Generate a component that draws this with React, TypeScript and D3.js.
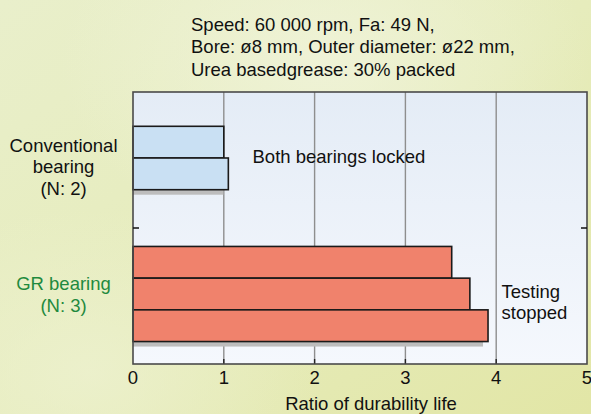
import React from "react";
import * as d3 from "d3";

const titleLines = [
  "Speed: 60 000 rpm, Fa: 49 N,",
  "Bore: ø8 mm, Outer diameter: ø22 mm,",
  "Urea basedgrease: 30% packed",
];
const categories = ["Conventional", "GR"];
const conventionalValues = [1.0, 1.05];
const grValues = [3.51, 3.71, 3.91];
const xTicks = [0, 1, 2, 3, 4, 5];
const conventionalLabel = ["Conventional", "bearing", "(N: 2)"];
const grLabel = ["GR bearing", "(N: 3)"];
const xAxisTitle = "Ratio of durability life";
const noteLocked = "Both bearings locked";
const noteStopped = ["Testing", "stopped"];

const W = 591;
const H = 414;
const margin = { left: 133, right: 4, top: 92, bottom: 50 };
const FONT = "'Liberation Sans', Arial, Helvetica, sans-serif";
const FS = 18.5;

export default function App() {
  const x = d3.scaleLinear().domain([0, 5]).range([margin.left, W - margin.right]);
  const y0 = d3
    .scaleBand<string>()
    .domain(categories)
    .range([margin.top, H - margin.bottom])
    .padding(0);
  const barH = 31.7;
  const groups = [
    { cat: "Conventional", values: conventionalValues, fill: "#c9e0f3" },
    { cat: "GR", values: grValues, fill: "#f0826c" },
  ];
  const plotTop = margin.top;
  const plotBottom = H - margin.bottom;
  const plotLeft = x(0);
  const plotRight = x(5);

  return (
    <svg
      width={W}
      height={H}
      style={{ position: "absolute", left: 0, top: 0, display: "block" }}
      fontFamily={FONT}
    >
      <defs>
        <linearGradient id="bg" x1="0" y1="0" x2="1" y2="1">
          <stop offset="0" stopColor="#e9efcb" />
          <stop offset="0.5" stopColor="#e6ecbc" />
          <stop offset="1" stopColor="#e2e6a6" />
        </linearGradient>
        <radialGradient id="blob1" cx="0.55" cy="0.15" r="0.45">
          <stop offset="0" stopColor="#f1f4dc" stopOpacity="0.8" />
          <stop offset="1" stopColor="#f1f4dc" stopOpacity="0" />
        </radialGradient>
        <radialGradient id="blob2" cx="0.15" cy="0.9" r="0.4">
          <stop offset="0" stopColor="#eef2d2" stopOpacity="0.7" />
          <stop offset="1" stopColor="#eef2d2" stopOpacity="0" />
        </radialGradient>
        <linearGradient id="plotbg" x1="0" y1="0" x2="0" y2="1">
          <stop offset="0" stopColor="#e4ecf6" />
          <stop offset="1" stopColor="#f5f8fd" />
        </linearGradient>
      </defs>
      <rect x={0} y={0} width={W} height={H} fill="url(#bg)" />
      <rect x={0} y={0} width={W} height={H} fill="url(#blob1)" />
      <rect x={0} y={0} width={W} height={H} fill="url(#blob2)" />

      {titleLines.map((t, i) => (
        <text key={i} x={191} y={30.5 + i * 22.6} fontSize={FS} fill="#111">
          {t}
        </text>
      ))}

      <rect
        x={plotLeft}
        y={plotTop}
        width={plotRight - plotLeft}
        height={plotBottom - plotTop}
        fill="url(#plotbg)"
      />

      {xTicks.slice(1, -1).map((t) => (
        <g key={t}>
          <line x1={x(t)} x2={x(t)} y1={plotTop} y2={plotBottom} stroke="#8e8e8e" strokeWidth={1.4} />
          <line x1={x(t)} x2={x(t)} y1={plotBottom - 5} y2={plotBottom} stroke="#222" strokeWidth={1.4} />
        </g>
      ))}

      {groups.map((g) => {
        const n = g.values.length;
        const top = (y0(g.cat) as number) + (y0.bandwidth() - n * barH) / 2 - 2;
        const maxV = d3.max(g.values) as number;
        return (
          <g key={g.cat}>
            <rect
              x={plotLeft}
              y={top + n * barH}
              width={x(maxV) - plotLeft - 5}
              height={5}
              fill="#bdbdbd"
            />
            {g.values.map((v, i) => (
              <rect
                key={i}
                x={plotLeft}
                y={top + i * barH}
                width={x(v) - plotLeft}
                height={barH}
                fill={g.fill}
                stroke="#1a1a1a"
                strokeWidth={1.6}
              />
            ))}
          </g>
        );
      })}

      <rect
        x={plotLeft}
        y={plotTop}
        width={plotRight - plotLeft}
        height={plotBottom - plotTop}
        fill="none"
        stroke="#4a4a4a"
        strokeWidth={1.6}
      />
      {/* category boundary ticks */}
      <line
        x1={plotLeft}
        x2={plotLeft + 6}
        y1={(y0("GR") as number)}
        y2={(y0("GR") as number)}
        stroke="#111"
        strokeWidth={1.5}
      />
      <line
        x1={plotRight - 6}
        x2={plotRight}
        y1={(y0("GR") as number)}
        y2={(y0("GR") as number)}
        stroke="#111"
        strokeWidth={1.5}
      />

      {xTicks.map((t) => (
        <text key={t} x={x(t)} y={383.5} fontSize={FS} textAnchor="middle" fill="#111">
          {t}
        </text>
      ))}
      <text x={371} y={410} fontSize={FS} textAnchor="middle" fill="#111">
        {xAxisTitle}
      </text>

      {conventionalLabel.map((t, i) => (
        <text key={i} x={63.5} y={151.5 + i * 21.5} fontSize={FS} textAnchor="middle" fill="#111">
          {t}
        </text>
      ))}
      {grLabel.map((t, i) => (
        <text key={i} x={63.5} y={290 + i * 21.5} fontSize={FS} textAnchor="middle" fill="#1f8a3e">
          {t}
        </text>
      ))}

      <text x={252.5} y={162.5} fontSize={FS} fill="#111">
        {noteLocked}
      </text>
      {noteStopped.map((t, i) => (
        <text key={i} x={501.5} y={298 + i * 20.5} fontSize={FS} fill="#111">
          {t}
        </text>
      ))}
    </svg>
  );
}
